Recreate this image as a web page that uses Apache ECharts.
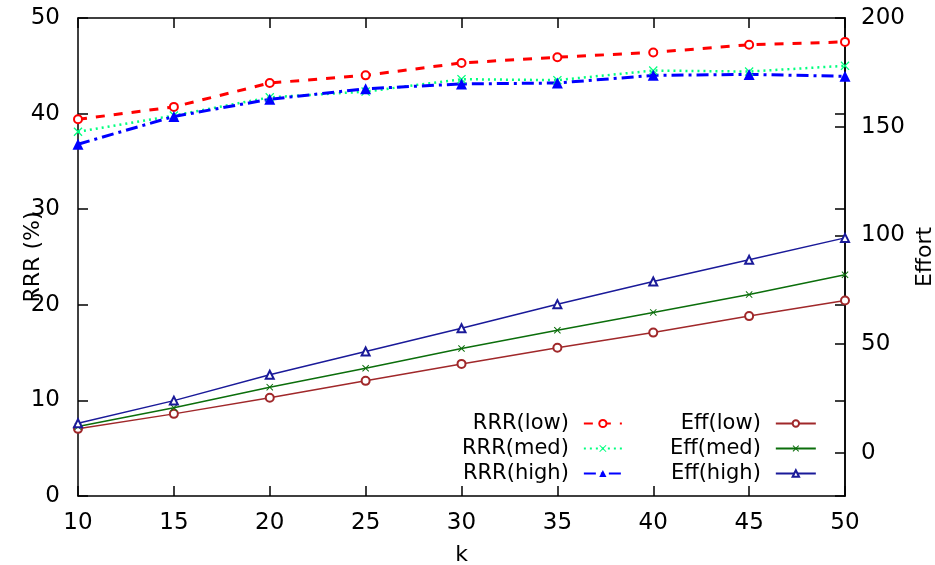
<!DOCTYPE html>
<html>
<head>
<meta charset="utf-8">
<script src="https://cdn.jsdelivr.net/npm/echarts@6/dist/echarts.min.js"></script>
<style>
  html, body { margin: 0; padding: 0; background: #fff; }
  #chart { width: 935px; height: 565px; }
</style>
</head>
<body>
<div id="chart"></div>
<script>
// ── Data ───────────────────────────────────────────────────────────────
const kValues = [10, 15, 20, 25, 30, 35, 40, 45, 50];

// RRR (%) — left axis
const rrrLow  = [39.4, 40.7, 43.2, 44.0, 45.3, 45.9, 46.4, 47.2, 47.5];
const rrrMed  = [38.1, 39.8, 41.7, 42.3, 43.6, 43.5, 44.5, 44.4, 45.0];
const rrrHigh = [36.8, 39.7, 41.5, 42.6, 43.1, 43.2, 44.0, 44.1, 43.9];

// Effort — right axis
const effLow  = [10.9, 17.8, 25.2, 33.0, 40.8, 48.2, 55.2, 62.8, 70.0];
const effMed  = [12.0, 20.6, 30.1, 38.8, 47.9, 56.3, 64.5, 72.7, 81.8];
const effHigh = [13.5, 23.9, 35.8, 46.5, 57.2, 68.3, 78.7, 88.7, 98.8];

const effTicks = [0, 50, 100, 150, 200];

// ── Style ──────────────────────────────────────────────────────────────
const fontFamily = 'DejaVu Sans';
const tickFont = 23;
const nameFont = 22;
const legendFont = 21;
const frame = { show: true, onZero: false, lineStyle: { color: '#000', width: 1.5 } };
const tick = { show: true, inside: true, length: 10, lineStyle: { color: '#000', width: 1.5 } };
const crossSymbol = 'path://M0,1L1,0L5,4L9,0L10,1L6,5L10,9L9,10L5,6L1,10L0,9L4,5Z';

const pairs = (ys) => kValues.map((k, i) => [k, ys[i]]);

const chart = echarts.init(document.getElementById('chart'), null, { renderer: 'canvas' });

const legendText = {
  fontFamily, fontSize: legendFont, color: '#000',
  width: 110, align: 'right', padding: [0, 10, 0, 0],
};

chart.setOption({
  animation: false,
  backgroundColor: '#fff',
  textStyle: { fontFamily },
  grid: { left: 78, right: 90, top: 18, bottom: 69, containLabel: false, outerBoundsMode: 'none' },
  legend: [
    {
      data: ['RRR(low)', 'RRR(med)', 'RRR(high)'],
      orient: 'vertical', align: 'right',
      left: 457, top: 408,
      itemWidth: 38, itemHeight: 9, itemGap: 4,
      textStyle: legendText,
    },
    {
      data: ['Eff(low)', 'Eff(med)', 'Eff(high)'],
      orient: 'vertical', align: 'right',
      left: 665, top: 408,
      itemWidth: 40, itemHeight: 8, itemGap: 4,
      textStyle: legendText,
    },
  ],
  xAxis: [
    {
      type: 'value', min: 10, max: 50, interval: 5,
      name: 'k', nameLocation: 'middle', nameGap: 48, nameMoveOverlap: false,
      nameTextStyle: { fontFamily, fontSize: nameFont, color: '#000' },
      axisLine: frame, axisTick: tick,
      axisLabel: { fontFamily, fontSize: tickFont, color: '#000', margin: 16 },
      splitLine: { show: false },
    },
    {
      type: 'value', min: 10, max: 50, interval: 5, position: 'top',
      axisLine: frame, axisTick: tick,
      axisLabel: { show: false }, splitLine: { show: false },
    },
  ],
  yAxis: [
    {
      type: 'value', min: 0, max: 50, interval: 10,
      name: 'RRR (%)', nameLocation: 'middle', nameGap: 34, nameRotate: 90, nameMoveOverlap: false,
      nameTextStyle: { fontFamily, fontSize: nameFont, color: '#000' },
      axisLine: frame, axisTick: tick,
      axisLabel: { fontFamily, fontSize: tickFont, color: '#000', margin: 18 },
      splitLine: { show: false },
    },
    {
      type: 'value', min: -20, max: 200, position: 'right',
      name: 'Effort', nameLocation: 'middle', nameGap: 69, nameRotate: 90, nameMoveOverlap: false,
      nameTextStyle: { fontFamily, fontSize: nameFont, color: '#000' },
      axisLine: frame,
      axisTick: Object.assign({}, tick, { customValues: effTicks }),
      axisLabel: { fontFamily, fontSize: tickFont, color: '#000', margin: 16, customValues: effTicks },
      splitLine: { show: false },
    },
    {
      type: 'value', min: 0, max: 50, interval: 10, position: 'right',
      axisLine: frame, axisTick: tick,
      axisLabel: { show: false }, splitLine: { show: false },
    },
  ],
  series: [
    {
      name: 'RRR(low)', type: 'line', yAxisIndex: 0, data: pairs(rrrLow),
      symbol: 'emptyCircle', symbolSize: 8,
      lineStyle: { color: '#ff0000', width: 3, type: [9, 9] },
      itemStyle: { color: '#ff0000', borderColor: '#ff0000', borderWidth: 2 },
    },
    {
      name: 'RRR(med)', type: 'line', yAxisIndex: 0, data: pairs(rrrMed),
      symbol: crossSymbol, symbolSize: 9,
      lineStyle: { color: '#00ff7f', width: 2.5, type: [2, 4] },
      itemStyle: { color: '#00ff7f' },
    },
    {
      name: 'RRR(high)', type: 'line', yAxisIndex: 0, data: pairs(rrrHigh),
      symbol: 'triangle', symbolSize: 11,
      lineStyle: { color: '#0000ff', width: 3, type: [12, 5, 3, 5] },
      itemStyle: { color: '#0000ff' },
    },
    {
      name: 'Eff(low)', type: 'line', yAxisIndex: 1, data: pairs(effLow),
      symbol: 'emptyCircle', symbolSize: 8,
      lineStyle: { color: '#a0282a', width: 1.5 },
      itemStyle: { color: '#a0282a', borderColor: '#a0282a', borderWidth: 1.3 },
    },
    {
      name: 'Eff(med)', type: 'line', yAxisIndex: 1, data: pairs(effMed),
      symbol: crossSymbol, symbolSize: 7,
      lineStyle: { color: '#0b6e0b', width: 1.5 },
      itemStyle: { color: '#0b6e0b' },
    },
    {
      name: 'Eff(high)', type: 'line', yAxisIndex: 1, data: pairs(effHigh),
      symbol: 'emptyTriangle', symbolSize: 8,
      lineStyle: { color: '#1a1a99', width: 1.5 },
      itemStyle: { color: '#1a1a99', borderColor: '#1a1a99', borderWidth: 1.3 },
    },
  ],
});
</script>
</body>
</html>
